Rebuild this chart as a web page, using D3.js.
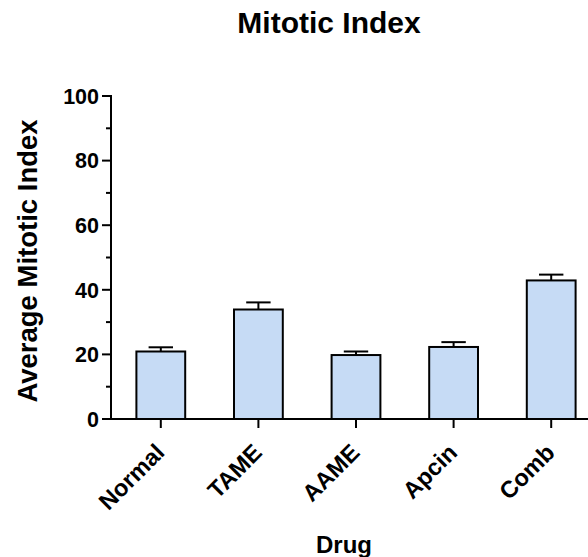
<!DOCTYPE html>
<html><head><meta charset="utf-8">
<script src="https://cdn.jsdelivr.net/npm/d3@7"></script>
<style>body{margin:0;background:#fff}svg{display:block}text{font-family:"Liberation Sans",Arial,sans-serif;font-weight:bold;fill:#000}</style>
</head><body>
<script>
const categories = ["Normal","TAME","AAME","Apcin","Comb"];
const means = [20.9, 33.9, 19.8, 22.3, 42.9];
const errors = [1.3, 2.2, 1.1, 1.5, 1.8];
const yTicks = [0,20,40,60,80,100];
const yMinorTicks = [10,30,50,70,90];
const title = "Mitotic Index";
const xTitle = "Drug";
const yTitle = "Average Mitotic Index";

const W = 588, H = 557;
const svg = d3.select("body").append("svg").attr("width", W).attr("height", H);

const y = d3.scaleLinear().domain([0,100]).range([419, 96]);
const x = d3.scaleBand().domain(categories).range([112, 600]).paddingInner(0.5).paddingOuter(0.25);
const axisX0 = 111;

// bars
svg.selectAll("rect.bar").data(categories).join("rect")
  .attr("x", d => x(d)).attr("y", (d,i) => y(means[i]))
  .attr("width", x.bandwidth()).attr("height", (d,i) => y(0) - y(means[i]))
  .attr("fill", "#c6dbf5").attr("stroke", "#000").attr("stroke-width", 2);

// error bars
const eb = svg.append("g").attr("stroke", "#000").attr("stroke-width", 2);
categories.forEach((c,i) => {
  const cx = x(c) + x.bandwidth()/2;
  eb.append("line").attr("x1", cx).attr("x2", cx).attr("y1", y(means[i])).attr("y2", y(means[i]+errors[i]));
  eb.append("line").attr("x1", cx - x.bandwidth()/4).attr("x2", cx + x.bandwidth()/4)
    .attr("y1", y(means[i]+errors[i])).attr("y2", y(means[i]+errors[i]));
});

// y axis
const ya = svg.append("g").attr("stroke", "#000").attr("stroke-width", 2);
ya.append("line").attr("x1", axisX0).attr("x2", axisX0).attr("y1", y(100)-1).attr("y2", y(0));
yTicks.forEach(t => ya.append("line").attr("x1", axisX0-9).attr("x2", axisX0).attr("y1", y(t)).attr("y2", y(t)));
yMinorTicks.forEach(t => ya.append("line").attr("x1", axisX0-5).attr("x2", axisX0).attr("y1", y(t)).attr("y2", y(t)));
svg.append("g").selectAll("text").data(yTicks).join("text")
  .attr("x", axisX0 - 12).attr("y", d => y(d)).attr("dy", "0.36em")
  .attr("text-anchor", "end").attr("font-size", 21.5).text(d => d);

// x axis
const xa = svg.append("g").attr("stroke", "#000").attr("stroke-width", 2);
xa.append("line").attr("x1", axisX0-1).attr("x2", W).attr("y1", y(0)).attr("y2", y(0));
categories.forEach(c => {
  const cx = x(c) + x.bandwidth()/2;
  xa.append("line").attr("x1", cx).attr("x2", cx).attr("y1", y(0)).attr("y2", y(0)+9);
});
svg.append("g").selectAll("text").data(categories).join("text")
  .attr("transform", d => `translate(${x(d)+x.bandwidth()/2+5},${y(0)+35}) rotate(-45)`)
  .attr("text-anchor", "end").attr("font-size", 23.5).text(d => d);

// titles
svg.append("text").attr("x", 329).attr("y", 32.5).attr("text-anchor", "middle").attr("font-size", 30).text(title);
svg.append("text").attr("x", 344).attr("y", 553).attr("text-anchor", "middle").attr("font-size", 24).text(xTitle);
svg.append("text").attr("transform", "translate(37,261) rotate(-90)").attr("text-anchor", "middle").attr("font-size", 27.5).text(yTitle);
</script>
</body></html>
